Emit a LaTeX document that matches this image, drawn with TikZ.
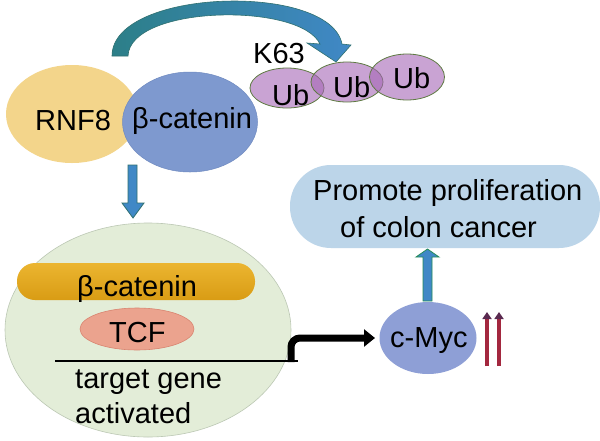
\documentclass[tikz,border=0pt]{standalone}
\usepackage{fontspec}
\setmainfont{Liberation Sans}
\usetikzlibrary{shapes.geometric,arrows.meta}
\definecolor{rnfc}{HTML}{F3D58B}
\definecolor{bcatc}{HTML}{7E99CF}
\definecolor{bcatd}{HTML}{6F8AC0}
\definecolor{ubc}{RGB}{165,102,182}
\definecolor{ubd}{HTML}{5E7A42}
\definecolor{nucc}{HTML}{E3EDD8}
\definecolor{nucd}{HTML}{BCC8B4}
\definecolor{goldt}{HTML}{EBB530}
\definecolor{goldb}{HTML}{D99C14}
\definecolor{tcfc}{HTML}{EBA38E}
\definecolor{tcfd}{HTML}{D98470}
\definecolor{mycc}{HTML}{8E9FD6}
\definecolor{promc}{HTML}{BCD5E9}
\definecolor{arrb}{HTML}{4088C6}
\definecolor{arrd}{HTML}{2F7070}
\definecolor{tealc}{HTML}{2C7F88}
\definecolor{redc}{HTML}{A3283F}
\definecolor{redd}{HTML}{5A2A50}
\tikzset{
  lbl/.style={font=\fontsize{29}{34}\selectfont, inner sep=0pt, text=black},
  ell/.style={ellipse, inner sep=0pt},
  blockarrow/.style={fill=arrb, draw=arrd, line width=0.8pt, line join=miter},
}
\begin{document}
\begin{tikzpicture}[x=1pt,y=-1pt]
\useasboundingbox (0,0) rectangle (600,440);
\fill[white] (0,0) rectangle (600,440);

% curved arrow
\shade[left color=tealc, right color=arrb, draw=arrd, line width=0.6pt]
  (112,56) .. controls (112,-12) and (330,-18) .. (342,44)
  -- (351,45) -- (336,62) -- (307,43) -- (320,44)
  .. controls (300,2) and (130,5) .. (128,56) -- cycle;

% RNF8 and beta-catenin
\node[ell, fill=rnfc, minimum width=132pt, minimum height=98pt] (rnf) at (72,114) {};
\node[ell, fill=bcatc, draw=bcatd, line width=0.5pt, minimum width=135pt, minimum height=100pt] (bcat) at (190,122) {};
\node[lbl, anchor=base west] (rnft) at (35,130) {RNF8};
\node[lbl, anchor=base west] (bcatt) at (132,128) {β-catenin};

% Ub chain
\begin{scope}[fill opacity=0.6]
\node[ell, fill=ubc, draw=ubd, draw opacity=1, line width=0.8pt, minimum width=74pt, minimum height=40pt] (ub1) at (287,88) {};
\node[ell, fill=ubc, draw=ubd, draw opacity=1, line width=0.8pt, minimum width=72pt, minimum height=40pt] (ub2) at (347,82) {};
\node[ell, fill=ubc, draw=ubd, draw opacity=1, line width=0.8pt, minimum width=75pt, minimum height=46pt] (ub3) at (407,77) {};
\end{scope}
\node[lbl, anchor=base west] (ub1t) at (272,105) {Ub};
\node[lbl, anchor=base west] (ub2t) at (333,97) {Ub};
\node[lbl, anchor=base west] (ub3t) at (393,88) {Ub};
\node[lbl, anchor=base west] (k63) at (253,63) {K63};

% down arrow
\draw[blockarrow] (128,165) -- (137,165) -- (137,203) -- (144,203) -- (133,218)
  -- (122,203) -- (128,203) -- cycle;

% nucleus
\node[ell, fill=nucc, draw=nucd, line width=0.6pt, minimum width=286pt, minimum height=214pt] (nuc) at (148,330) {};
\shade[top color=goldt, bottom color=goldb, rounded corners=18pt] (17,263) rectangle (255,300);
\node[inner sep=0pt, minimum width=238pt, minimum height=37pt] (bpill) at (136,281.5) {};
\node[lbl, anchor=base west] (bpillt) at (77,296) {β-catenin};
\node[ell, fill=tcfc, draw=tcfd, line width=0.6pt, minimum width=114pt, minimum height=42pt] (tcf) at (137,329) {};
\node[lbl, anchor=base west] (tcft) at (109,342) {TCF};
\node[lbl, anchor=base west] (tg1) at (75,388) {target gene};
\node[lbl, anchor=base west] (tg2) at (75,423) {activated};

% c-Myc
\node[ell, fill=mycc, minimum width=97pt, minimum height=72pt] (myc) at (428,338) {};
\node[lbl, anchor=base west] (myct) at (390,347) {c-Myc};

% promoter line and bent arrow
\coordinate (gl) at (55,361);
\coordinate (gr) at (298,361);
\draw[line width=2.2pt] (gl) -- (gr);
\coordinate (bs) at (291,362);
\coordinate (be) at (375,338);
\draw[line width=7pt, rounded corners=9pt, -{Triangle[width=17pt,length=11pt]}]
  (bs) -- (bs |- be) -- (be);

% red up arrows
\coordinate (r1a) at (487,366); \coordinate (r1b) at (487,312);
\coordinate (r2a) at (499,366); \coordinate (r2b) at (499,312);
\draw[redc, line width=3.6pt, -{Triangle[width=9pt,length=7pt,fill=redd,color=redd]}] (r1a) -- (r1b);
\draw[redc, line width=3.6pt, -{Triangle[width=9pt,length=7pt,fill=redd,color=redd]}] (r2a) -- (r2b);

% promote pill
\fill[promc, rounded corners=41pt] (290,165) rectangle (600,248);
\node[inner sep=0pt, minimum width=310pt, minimum height=83pt] (prom) at (445,206.5) {};
\node[lbl, anchor=base west] (p1) at (313,200) {Promote proliferation};
\node[lbl, anchor=base west] (p2) at (340,237) {of colon cancer};

% up arrow
\draw[blockarrow, draw=arrd!80!green] (423,301) -- (432,301) -- (432,257) -- (439,257)
  -- (427.5,249) -- (416,257) -- (423,257) -- cycle;
\end{tikzpicture}
\end{document}
